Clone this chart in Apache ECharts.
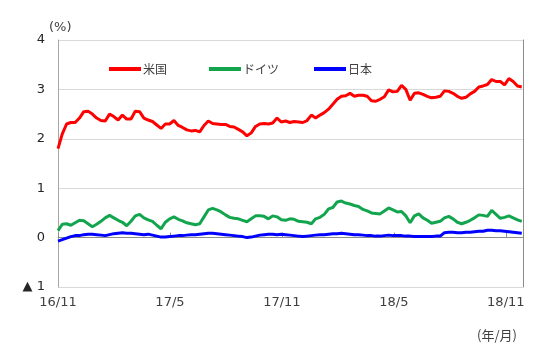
<!DOCTYPE html>
<html><head><meta charset="utf-8">
<script src="https://cdn.jsdelivr.net/npm/echarts@6/dist/echarts.min.js"></script>
<style>html,body{margin:0;padding:0;background:#fff}#c{width:550px;height:354px}</style>
</head><body><div id="c"></div>
<script>
// weekly observations starting 2016-11-01
const startDate = '2016-11-01';
const stepDays = 7;
const seriesNames = ['米国', 'ドイツ', '日本'];
const xTickLabels = ['16/11', '17/5', '17/11', '18/5', '18/11'];
const yTickLabels = { '-1': '▲ 1', '0': '0', '1': '1', '2': '2', '3': '3', '4': '4' };
const us = [1.80,2.10,2.30,2.33,2.33,2.42,2.55,2.56,2.50,2.42,2.37,2.36,2.50,2.45,2.38,2.48,2.40,2.40,2.56,2.55,
 2.42,2.38,2.35,2.28,2.21,2.30,2.30,2.37,2.27,2.23,2.18,2.16,2.17,2.14,2.27,2.36,2.31,2.30,2.29,2.29,
 2.25,2.24,2.19,2.14,2.06,2.12,2.25,2.30,2.31,2.30,2.32,2.42,2.34,2.36,2.33,2.35,2.34,2.33,2.37,2.48,
 2.42,2.48,2.53,2.60,2.70,2.80,2.86,2.87,2.92,2.86,2.88,2.88,2.86,2.77,2.76,2.80,2.85,2.99,2.95,2.96,
 3.08,3.00,2.78,2.92,2.93,2.90,2.86,2.83,2.84,2.86,2.97,2.96,2.92,2.86,2.82,2.84,2.91,2.96,3.05,3.07,
 3.10,3.20,3.16,3.16,3.09,3.22,3.16,3.07,3.05];
const de = [0.14,0.27,0.28,0.25,0.30,0.35,0.34,0.28,0.22,0.27,0.33,0.40,0.45,0.40,0.35,0.31,0.24,0.33,0.44,0.47,
 0.40,0.36,0.33,0.25,0.18,0.31,0.38,0.42,0.37,0.34,0.30,0.28,0.26,0.28,0.42,0.56,0.59,0.56,0.52,0.46,
 0.41,0.39,0.38,0.35,0.32,0.38,0.44,0.44,0.43,0.38,0.44,0.42,0.36,0.35,0.38,0.37,0.33,0.32,0.31,0.28,
 0.38,0.41,0.47,0.58,0.61,0.72,0.74,0.70,0.68,0.65,0.63,0.57,0.54,0.50,0.49,0.48,0.54,0.60,0.56,0.52,
 0.53,0.44,0.30,0.44,0.48,0.40,0.35,0.29,0.31,0.33,0.40,0.43,0.38,0.31,0.28,0.31,0.35,0.40,0.46,0.45,
 0.43,0.55,0.47,0.39,0.41,0.44,0.40,0.36,0.33];
const jp = [-0.07,-0.04,-0.01,0.02,0.04,0.04,0.06,0.07,0.07,0.06,0.05,0.04,0.06,0.08,0.09,0.10,0.09,0.09,0.08,0.07,
 0.06,0.07,0.05,0.03,0.01,0.01,0.02,0.03,0.04,0.04,0.05,0.06,0.06,0.07,0.08,0.09,0.09,0.08,0.07,0.06,
 0.05,0.04,0.03,0.02,0.00,0.01,0.03,0.05,0.06,0.07,0.07,0.06,0.07,0.06,0.05,0.04,0.03,0.02,0.03,0.04,
 0.05,0.06,0.06,0.07,0.08,0.08,0.09,0.08,0.07,0.06,0.06,0.05,0.04,0.04,0.03,0.03,0.04,0.05,0.04,0.04,
 0.04,0.03,0.03,0.02,0.02,0.02,0.02,0.02,0.03,0.03,0.10,0.11,0.11,0.10,0.10,0.11,0.11,0.12,0.13,0.13,
 0.15,0.15,0.14,0.14,0.13,0.12,0.11,0.10,0.09];
const colors = ['#ff0000', '#12a54e', '#0000ff'];

const pair = arr => arr.map((v, i) => [i * stepDays, v]);
const halfYearDays = 182.5;
const chart = echarts.init(document.getElementById('c'), null, { renderer: 'canvas' });
const font = 'DejaVu Sans';
const legendBase = (name, left) => ({
  data: [name], left: left, top: 58, icon: 'rect', itemWidth: 32, itemHeight: 4, itemGap: 0,
  textStyle: { fontFamily: 'Noto Sans CJK JP', fontSize: 12, color: '#404040', padding: [0, 0, 0, -3] }
});
chart.setOption({
  animation: false,
  color: colors,
  grid: { left: 58, right: 27, top: 40, bottom: 67, containLabel: false },
  legend: [legendBase(seriesNames[0], 104), legendBase(seriesNames[1], 204), legendBase(seriesNames[2], 309)],
  xAxis: {
    type: 'value', min: 0, max: 758, interval: halfYearDays,
    axisLine: { show: true, lineStyle: { color: '#8c8c8c', width: 1 } },
    axisTick: { show: true, inside: true, length: 5, lineStyle: { color: '#8c8c8c' } },
    splitLine: { show: false },
    axisLabel: {
      margin: 9, fontFamily: font, fontSize: 13, color: '#404040', showMaxLabel: false,
      formatter: v => xTickLabels[Math.round(v / halfYearDays)] || ''
    }
  },
  yAxis: [{
    type: 'value', min: -1, max: 4, interval: 1,
    axisLine: { show: true, lineStyle: { color: '#a6a6a6' } },
    axisTick: { show: false },
    splitLine: { show: true, lineStyle: { color: '#d9d9d9' } },
    axisLabel: { margin: 13, fontFamily: font, fontSize: 13, color: '#262626',
      formatter: v => yTickLabels[String(v)] }
  }, {
    type: 'value', min: -1, max: 4, interval: 1, position: 'right',
    axisLine: { show: true, lineStyle: { color: '#8c8c8c' } },
    axisTick: { show: false }, axisLabel: { show: false }, splitLine: { show: false }
  }],
  graphic: [
    { type: 'text', left: 49, top: 21, style: { text: '(%)', font: '13px "DejaVu Sans"', fill: '#404040' } },
    { type: 'text', left: 477, top: 329, style: { text: '(年/月)', font: '13px "Noto Sans CJK JP"', fill: '#404040' } }
  ],
  series: [us, de, jp].map((d, i) => ({
    name: seriesNames[i], type: 'line', data: pair(d), showSymbol: false, symbol: 'none',
    lineStyle: { width: 3, color: colors[i] }, itemStyle: { color: colors[i] }, z: 3 - i
  }))
});
</script></body></html>
